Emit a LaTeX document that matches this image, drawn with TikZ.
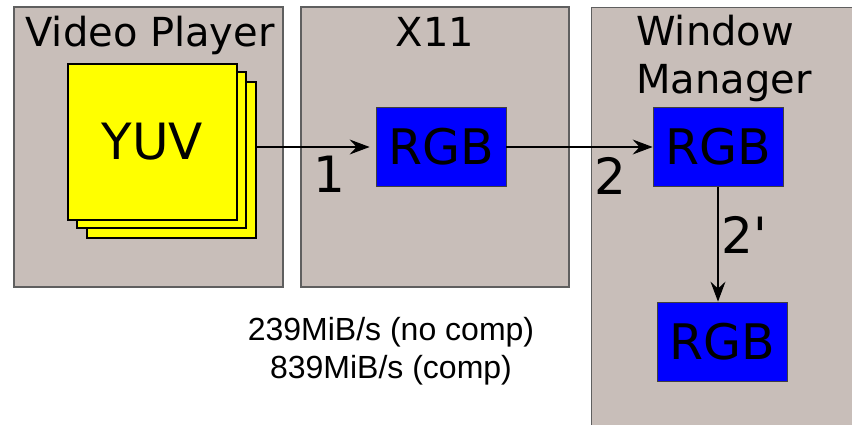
\documentclass[tikz,border=0pt]{standalone}
\usepackage{fontspec}
\setmainfont{DejaVu Sans}
\newfontfamily\ratefont{Liberation Sans}
\usetikzlibrary{arrows.meta, positioning}
\definecolor{panelgray}{RGB}{200,190,185}
\definecolor{panelline}{RGB}{95,95,95}
\definecolor{bufblue}{RGB}{0,0,255}
\definecolor{frameyellow}{RGB}{255,255,0}

\begin{document}
\begin{tikzpicture}[
    x=1pt, y=-1pt,
    panel/.style={draw=panelline, line width=1.1pt, fill=panelgray, inner sep=0pt},
    title/.style={font=\fontsize{40}{48}\selectfont, inner sep=0pt},
    frame/.style={draw, line width=1.4pt, fill=frameyellow, minimum width=169pt, minimum height=156pt, inner sep=0pt},
    buffer/.style={draw=black!75, line width=0.8pt, fill=bufblue, minimum width=130pt, minimum height=79pt, inner sep=0pt, font=\fontsize{49}{49}\selectfont},
    num/.style={font=\fontsize{50}{50}\selectfont, inner sep=0pt},
    arrow/.style={-{Stealth[length=20pt, width=15pt, inset=7pt]}, line width=1.1pt}
]
\path[use as bounding box] (0,0) rectangle (852,425);
\clip (0,0) rectangle (852,425);

% panels
\node[panel, minimum width=269pt, minimum height=280pt] (player) at (148.5,147) {};
\node[panel, minimum width=268pt, minimum height=280pt] (xserver) at (435,147) {};
\node[panel, minimum width=280pt, minimum height=440pt, anchor=north west] (wm) at (591,7) {};

\node[title, anchor=base] (playertitle) at (150,47) {Video Player};
\node[title, anchor=base] (xtitle) at (435,47) {X11};
\node[title, anchor=north west, align=left] (wmtitle) at (636,15) {Window\\Manager};

% yuv frames
\node[frame] (frame3) at (171.5,160) {};
\node[frame] (frame2) at (161.5,150) {};
\node[frame, font=\fontsize{50}{50}\selectfont] (frame1) at (152.5,142) {YUV};

% rgb buffers
\node[buffer] (rgb1) at (441,147) {RGB};
\node[buffer] (rgb2) at (718,147) {RGB};
\node[buffer] (rgb3) at (722.5,341.5) {RGB};

\draw[arrow, shorten >=6pt] (frame3.east |- rgb1.west) -- (rgb1.west);
\draw[arrow] (rgb1.east) -- (rgb2.west);
\draw[arrow] (rgb2.south) -- (rgb2.south |- rgb3.north);

\node[num, anchor=base] (step1) at (329,193) {1};
\node[num, anchor=base] (step2) at (610,195) {2};
\node[num, anchor=base] (step2b) at (744,253) {2\textquotesingle};

\node[align=center, inner sep=0pt, font=\ratefont\fontsize{32}{38}\selectfont] (rate) at (391,351) {239MiB/s (no comp)\\839MiB/s (comp)};
\end{tikzpicture}
\end{document}
